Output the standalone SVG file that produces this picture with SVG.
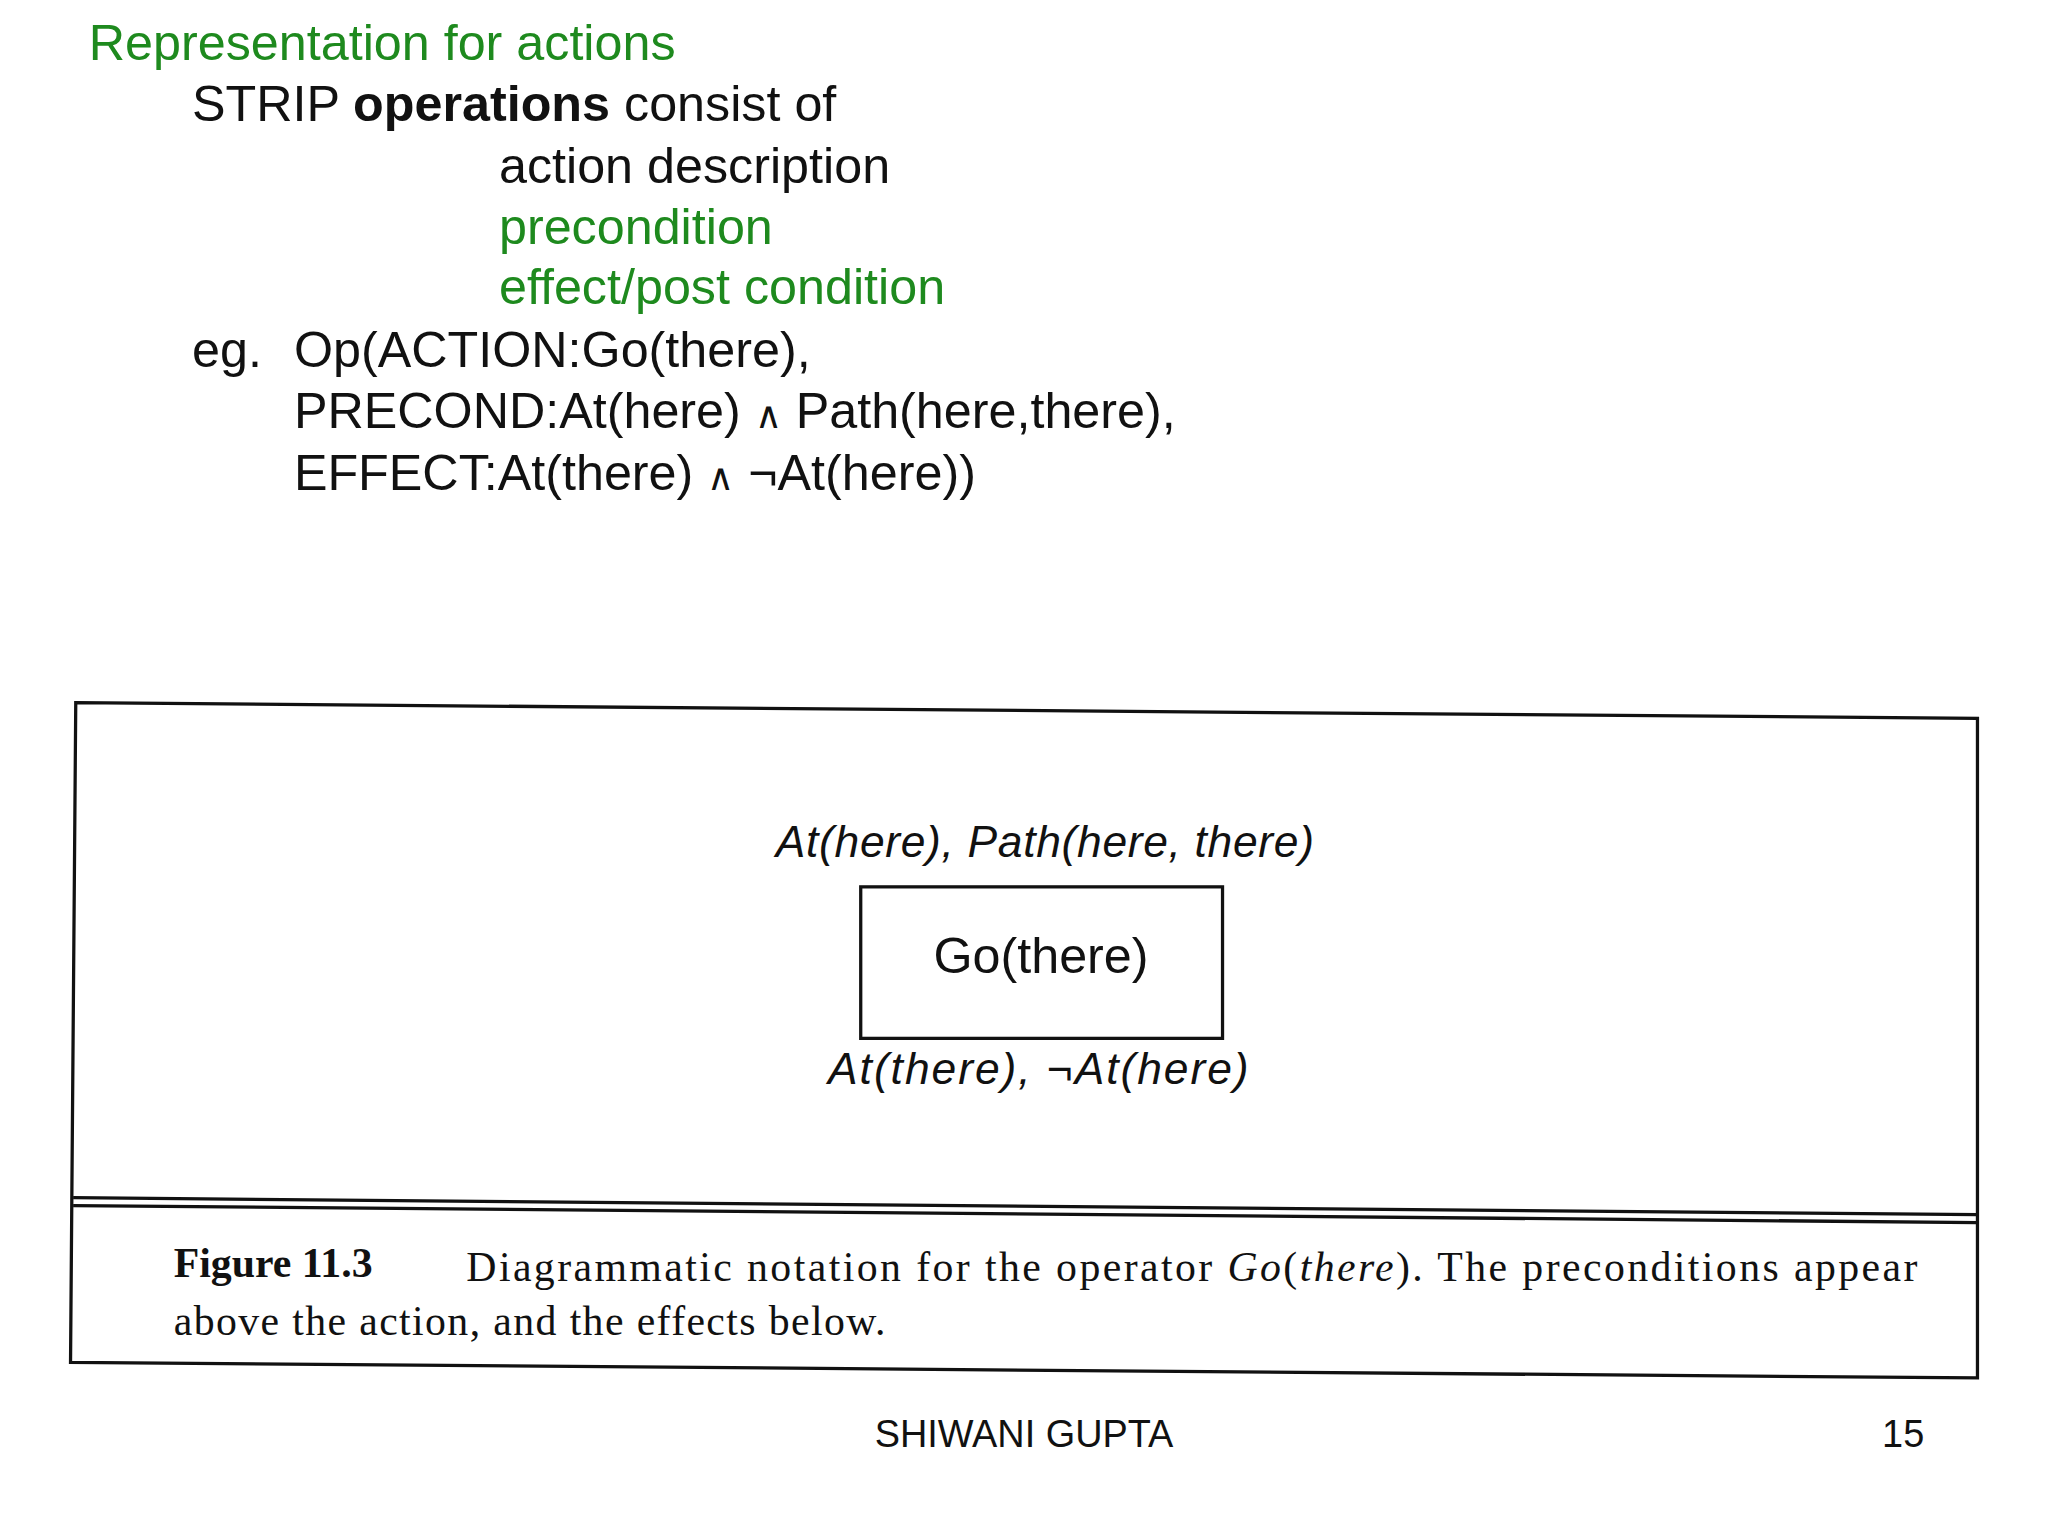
<svg xmlns="http://www.w3.org/2000/svg" width="2048" height="1536" viewBox="0 0 2048 1536">
<style>
.s{font-family:"Liberation Sans",Arial,sans-serif;font-size:38.5px;fill:#111}
.g{fill:#1e8a1e}
.i{font-family:"Liberation Sans",Arial,sans-serif;font-style:italic;font-size:34px;fill:#111}
.c{font-family:"Liberation Serif","Times New Roman",serif;font-size:32px;fill:#111}
.f{font-family:"Liberation Sans",Arial,sans-serif;font-size:29px;fill:#111}
</style>
<rect width="2048" height="1536" fill="#fff"/>
<g transform="scale(1.30612)">
<g id="text">
<text class="s g" x="68" y="46">Representation for actions</text>
<text class="s" x="147" y="93">STRIP <tspan font-weight="bold">operations</tspan> consist of</text>
<text class="s" x="382" y="140">action description</text>
<text class="s g" x="382" y="187">precondition</text>
<text class="s g" x="382" y="233">effect/post condition</text>
<text class="s" x="147" y="281">eg.</text>
<text class="s" x="225" y="281">Op(ACTION:Go(there),</text>
<text class="s" x="225" y="328">PRECOND:At(here) <tspan font-size="28">∧</tspan> Path(here,there),</text>
<text class="s" x="225" y="375">EFFECT:At(there) <tspan font-size="28">∧</tspan> ¬At(here))</text>
</g>
<g id="frame" fill="none" stroke="#111" stroke-width="2.5">
<polygon points="58,538 1514,550 1514,1055 54,1043"/>
<line x1="56" y1="917" x2="1514" y2="930"/>
<line x1="56" y1="923" x2="1514" y2="936"/>
</g>
<g id="node-go">
<rect x="659" y="679" width="277" height="116" fill="none" stroke="#111" stroke-width="2.5"/>
<text class="s" x="797" y="745" text-anchor="middle" font-size="33">Go(there)</text>
</g>
<g id="labels">
<text class="i" x="800" y="656" text-anchor="middle" textLength="412" lengthAdjust="spacing">At(here), Path(here, there)</text>
<text class="i" x="795" y="830" text-anchor="middle" textLength="322" lengthAdjust="spacing">At(there),  ¬At(here)</text>
</g>
<g id="caption">
<text class="c" x="133" y="978" font-weight="bold">Figure 11.3</text>
<text class="c" x="357" y="981" textLength="1111" lengthAdjust="spacing">Diagrammatic notation for the operator <tspan font-style="italic">Go</tspan>(<tspan font-style="italic">there</tspan>).  The preconditions appear</text>
<text class="c" x="133" y="1022" textLength="545" lengthAdjust="spacing">above the action, and the effects below.</text>
</g>
<g id="footer">
<text class="f" x="784" y="1108" text-anchor="middle">SHIWANI GUPTA</text>
<text class="f" x="1441" y="1108">15</text>
</g>
</g>
</svg>
